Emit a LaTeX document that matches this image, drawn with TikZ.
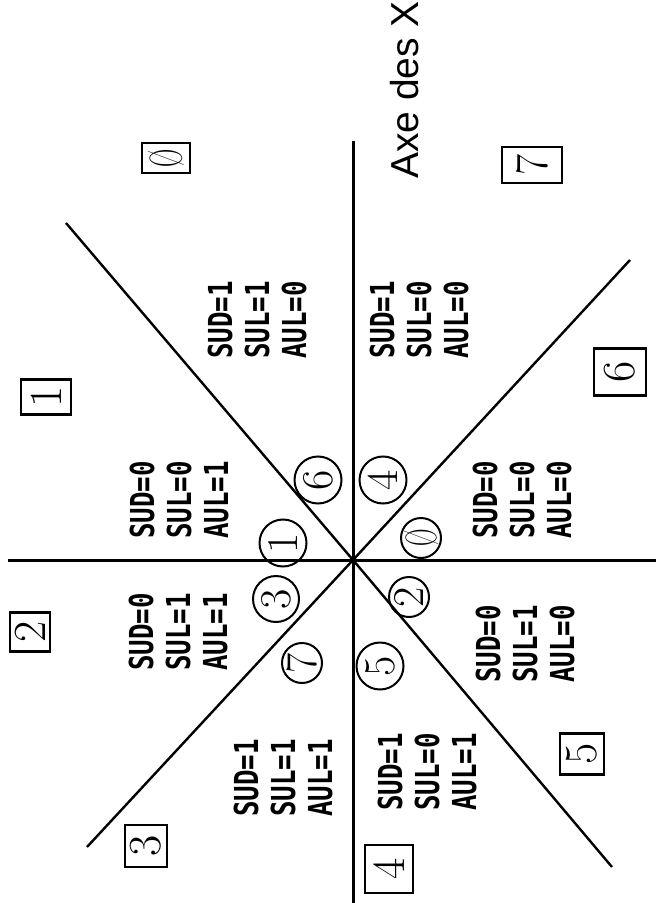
\documentclass[tikz,border=0pt]{standalone}
\usepackage{fontspec}
\newfontfamily\zustandfont[FakeStretch=0.78]{DejaVu Sans Mono}
\newfontfamily\achsenfont{Liberation Sans}
\newfontfamily\schmalfont[FakeStretch=0.55]{Latin Modern Roman}
\usetikzlibrary{shapes,arrows}

\begin{document}
\begin{tikzpicture}[x=0.5pt, y=-0.5pt,
				feld/.style={draw, line width=1.1pt, rotate=90, inner sep=0pt, font=\fontsize{23}{23}\selectfont},
				kreis/.style={draw, circle, line width=1pt, rotate=90, inner sep=0pt, minimum size=#1, font=\fontsize{22}{22}\selectfont},
				zustand/.style={rotate=90, align=center, inner sep=0pt, font=\zustandfont\bfseries\fontsize{16.5}{18.5}\selectfont},
				achse/.style={line width=1.5pt},
				diagonale/.style={line width=1.2pt}]
				%Bildbereich
				\useasboundingbox (0,0) rectangle (656,903);
				% Achsen und Diagonalen
				\coordinate (O) at (353,560);
				\coordinate (h1) at (8,560); \coordinate (h2) at (656,560);
				\coordinate (v1) at (353,141); \coordinate (v2) at (353,903);
				\coordinate (a1) at (66,223); \coordinate (a2) at (612,867);
				\coordinate (b1) at (87,847); \coordinate (b2) at (630,260);
				\draw[achse] (h1) -- (h2);
				\draw[achse] (v1) -- (v2);
				\draw[diagonale] (a1) -- (O) -- (a2);
				\draw[diagonale] (b1) -- (O) -- (b2);
				\fill (O) circle (1.6pt);
				% Achse beschriften
				\node[rotate=90, inner sep=0pt, font=\achsenfont\fontsize{19.5}{19.5}\selectfont] (achsex) at (405,90) {Axe des X};
				% Sektornummern
				\foreach \n/\lab/\x/\y/\w/\h in {0/{\schmalfont Ø}/166/158/48/30, 1/1/46/397/50/35, 2/2/30/632/40/39, 3/3/146/846/42/42,
						4/4/389/869/48/48, 5/5/582/754/44/41, 6/6/620/372/52/47, 7/7/532/165/60/36}
					\node[feld, minimum height=\w*0.5pt, minimum width=\h*0.5pt] (s\n) at (\x,\y) {\lab};
				% Zustaende
				\foreach \n/\x/\y/\wa/\wb/\wc in {1/257/320/1/1/0, 2/419/320/1/0/0, 3/179/500/0/0/1, 4/522/500/0/0/0,
						5/178/632/0/1/1, 6/525/644/0/1/0, 7/283/778/1/1/1, 8/427/772/1/0/1}
					\node[zustand] (z\n) at (\x,\y) {SUD=\wa\\SUL=\wb\\AUL=\wc};
				% Kreise um den Ursprung
				\foreach \n/\lab/\x/\y/\dm in {6/6/318/480/23.5pt, 4/4/383/480/23.5pt, 1/1/283/543/23.5pt, 0/{\schmalfont Ø}/421/538/20pt,
						3/3/276/599/23pt, 2/2/409/597/20pt, 7/7/302/663/20pt, 5/5/380/666/23.5pt}
					\node[kreis=\dm] (k\n) at (\x,\y) {\lab};
			\end{tikzpicture}
\end{document}
